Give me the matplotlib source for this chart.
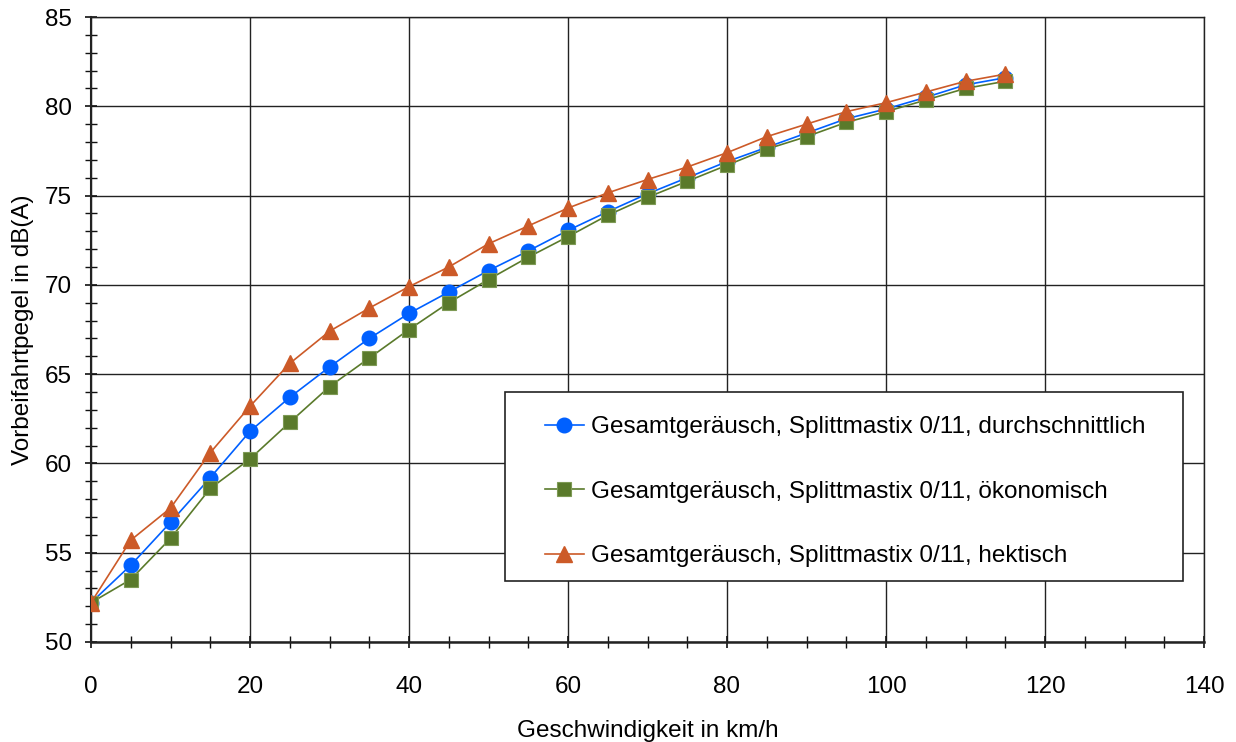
import matplotlib
matplotlib.use("Agg")
import matplotlib.pyplot as plt
from matplotlib.ticker import MultipleLocator
from matplotlib.patches import Rectangle

speed = [0, 5, 10, 15, 20, 25, 30, 35, 40, 45, 50, 55, 60, 65, 70, 75, 80, 85, 90, 95, 100, 105, 110, 115]
durchschnittlich = [52.2, 54.3, 56.7, 59.2, 61.8, 63.7, 65.4, 67.0, 68.4, 69.6, 70.8, 71.9, 73.05, 74.1, 75.1,
                    76.0, 76.9, 77.7, 78.5, 79.3, 79.85, 80.5, 81.2, 81.6]
oekonomisch = [52.2, 53.5, 55.8, 58.6, 60.25, 62.3, 64.3, 65.9, 67.5, 69.0, 70.3, 71.55, 72.7, 73.9, 74.9,
               75.8, 76.7, 77.6, 78.3, 79.1, 79.7, 80.35, 81.0, 81.4]
hektisch = [52.2, 55.7, 57.5, 60.6, 63.2, 65.6, 67.4, 68.7, 69.9, 71.0, 72.3, 73.3, 74.3, 75.15, 75.9,
            76.6, 77.4, 78.3, 79.0, 79.7, 80.2, 80.8, 81.4, 81.8]
labels = ["Gesamtgeräusch, Splittmastix 0/11, durchschnittlich",
          "Gesamtgeräusch, Splittmastix 0/11, ökonomisch",
          "Gesamtgeräusch, Splittmastix 0/11, hektisch"]
xlabel = "Geschwindigkeit in km/h"
ylabel = "Vorbeifahrtpegel in dB(A)"

plt.rcParams['font.family'] = ['Liberation Sans', 'DejaVu Sans']
FS = 17.5
plt.rcParams['font.size'] = FS

fig = plt.figure(figsize=(12.36, 7.42), dpi=100)
ax = fig.add_axes([91/1236, 1-642/742, 1113/1236, 625/742])

ax.plot(speed, durchschnittlich, color='#0060FF', lw=1.2, marker='o', ms=10.5, mec='#0060FF', label=labels[0], zorder=3)
ax.plot(speed, oekonomisch, color='#5A7A2B', lw=1.2, marker='s', ms=10.5, mec='#7E9A55', mew=0.8, label=labels[1], zorder=3)
ax.plot(speed, hektisch, color='#CC5A28', lw=1.2, marker='^', ms=11.5, mec='#CC5A28', label=labels[2], zorder=3)

ax.set_xlim(0, 140)
ax.set_ylim(50, 85)
ax.xaxis.set_major_locator(MultipleLocator(20))
ax.xaxis.set_minor_locator(MultipleLocator(5))
ax.yaxis.set_major_locator(MultipleLocator(5))
ax.yaxis.set_minor_locator(MultipleLocator(1))
ax.grid(True, which='major', color='#222222', lw=1.0)
ax.set_axisbelow(True)
for s in ax.spines.values():
    s.set_color('#222222')
    s.set_linewidth(1.0)
ax.spines['left'].set_linewidth(1.5)
ax.spines['bottom'].set_linewidth(1.8)
ax.tick_params(axis='both', which='major', direction='inout', length=9, width=1.2, color='#111111')
ax.tick_params(axis='both', which='minor', direction='inout', length=8, width=1.0, color='#111111')
ax.tick_params(axis='x', which='major', pad=20, labelsize=FS)
ax.tick_params(axis='y', which='major', pad=9, labelsize=FS)

ax.set_xlabel(xlabel, fontsize=FS, labelpad=16)
ax.set_ylabel(ylabel, fontsize=FS, labelpad=8)

# legend box
x0, y0 = (505-91)/1113, (642-581)/625
w, h = (1183-505)/1113, (581-392)/625
rect = Rectangle((x0, y0), w, h, transform=ax.transAxes, facecolor='white', edgecolor='#222222', lw=1.2, zorder=4)
ax.add_patch(rect)
leg = ax.legend(loc='upper left', bbox_to_anchor=((545-91)/1113, (642-416)/625), frameon=False,
                fontsize=FS, labelspacing=1.75, handlelength=1.6, handletextpad=0.3, borderpad=0,
                borderaxespad=0, markerscale=1.0)
leg.set_zorder(5)

fig.savefig("out.png", dpi=100)
